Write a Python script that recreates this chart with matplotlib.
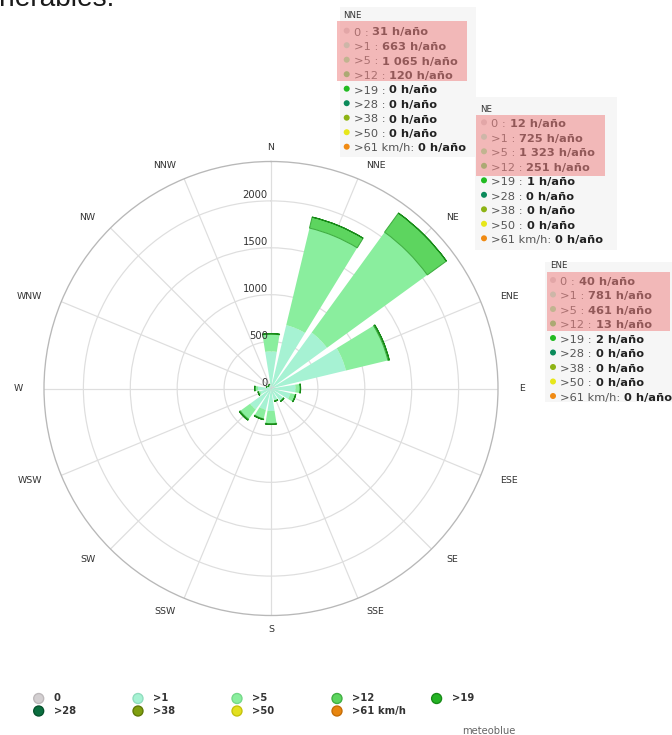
import numpy as np
import matplotlib
matplotlib.use("Agg")
import matplotlib.pyplot as plt
from matplotlib.patches import Rectangle, Circle
from matplotlib.text import Annotation
from matplotlib.transforms import Affine2D

# ─── Datos (h/año por dirección y clase de velocidad) ────────────────────────
direcciones = ["N", "NNE", "NE", "ENE", "E", "ESE", "SE", "SSE",
               "S", "SSW", "SW", "WSW", "W", "WNW", "NW", "NNW"]
clases = ["0", ">1", ">5", ">12", ">19", ">28", ">38", ">50", ">61 km/h"]

v0  = [15, 31, 12, 40, 10, 8, 6, 6, 10, 8, 10, 6, 8, 5, 4, 5]
v1  = [380, 663, 725, 781, 250, 205, 150, 120, 230, 225, 265, 110, 130, 40, 30, 35]
v5  = [185, 1065, 1323, 461, 50, 55, 15, 15, 135, 100, 130, 25, 35, 5, 3, 5]
v12 = [5, 120, 251, 13, 5, 3, 0, 0, 8, 8, 12, 1, 1, 0, 0, 0]
v19 = [0, 0, 1, 2, 0, 0, 0, 0, 0, 0, 0, 0, 0, 0, 0, 0]

r_ticks = [0, 500, 1000, 1500, 2000]

# tooltips (valores tal como aparecen)
tip_nne = ["31", "663", "1 065", "120", "0", "0", "0", "0", "0"]
tip_ne  = ["12", "725", "1 323", "251", "1", "0", "0", "0", "0"]
tip_ene = ["40", "781", "461", "13", "2", "0", "0", "0", "0"]

# ─── Colores ─────────────────────────────────────────────────────────────────
COL = ["#d3cfd1", "#a6f2d3", "#8aee9e", "#5dd55f", "#24b324",
       "#0b6e3f", "#7f9f0f", "#e3e01f", "#e8860f"]
EDGE = ["#bdb8ba", "#8fdcbd", "#74d888", "#3fae41", "#178a17",
        "#05512c", "#5f7806", "#c4c10c", "#c46c06"]
TIPCOL = ["#d3cfd1", "#a6f2d3", "#8aee9e", "#5dd55f", "#22bb22",
          "#0a8a5a", "#8db314", "#e7e71a", "#f08a12"]
GRID = "#dedede"
TXT = "#333333"

W, H = 672, 735
fig = plt.figure(figsize=(W / 96, H / 96), dpi=96, facecolor="white")
PX = Affine2D().scale(1 / W, -1 / H).translate(0, 1) + fig.transFigure

# texto cortado arriba
fig.text(-36, 5.5, "vulnerables.", transform=PX, fontsize=21,
         family="Liberation Sans", color="#1a1a1a", va="baseline", ha="left")

# ─── Rosa de vientos ─────────────────────────────────────────────────────────
CX, CY, R = 271, 388.5, 227
RMAX = 2420
ax = fig.add_axes([(CX - R) / W, (H - CY - R) / H, 2 * R / W, 2 * R / H],
                  projection="polar")
ax.set_theta_zero_location("N")
ax.set_theta_direction(-1)
ax.set_ylim(0, RMAX)

theta = np.deg2rad(np.arange(16) * 22.5)
ancho = np.deg2rad(22.5 * 0.8)

bottom = np.zeros(16)
for k, vals in enumerate([v0, v1, v5, v12, v19]):
    vals = np.array(vals, dtype=float)
    lw = 0.8 if k >= 3 else 0
    ax.bar(theta, vals, width=ancho, bottom=bottom, color=COL[k],
           edgecolor=EDGE[k] if k >= 3 else "none", linewidth=lw, zorder=3)
    bottom += vals

ax.set_xticks(theta)
ax.set_xticklabels([])
ax.set_yticks(r_ticks[1:])
ax.set_yticklabels([])
ax.grid(True, color=GRID, lw=0.9)
ax.set_axisbelow(True)
ax.spines["polar"].set_color("#b8b8b8")
ax.spines["polar"].set_linewidth(1.0)

# etiquetas de dirección fuera del círculo
for ang, lab in zip(theta, direcciones):
    s, c = np.sin(ang), np.cos(ang)
    if abs(s) < 1e-6:
        ha, x = "center", CX
    else:
        ha = "left" if s > 0 else "right"
        x = CX + 248 * s
    y = CY - 241.5 * c
    fig.text(x, y, lab, transform=PX, ha=ha, va="center",
             fontsize=7, color=TXT)

for v in r_ticks:
    ax.annotate(str(v), xy=(0, v), xytext=(-2.5, 4.5), textcoords="offset points",
                ha="right", va="center", fontsize=7.5, color=TXT, zorder=4)

# ─── Leyenda inferior ────────────────────────────────────────────────────────
leg_x = [38.7, 138, 237, 337, 436.6]
leg_y = [698.5, 711]
for i, lab in enumerate(clases):
    x = leg_x[i % 5]
    y = leg_y[i // 5]
    fig.add_artist(Circle((x, y), 5, transform=PX, facecolor=COL[i],
                          edgecolor=EDGE[i], lw=1))
    fig.text(x + 15, y, lab, transform=PX, fontsize=7.5, fontweight="bold",
             color=TXT, va="center", ha="left")
fig.text(462, 731, "meteoblue", transform=PX, fontsize=7.5, color="#666666",
         va="center", ha="left")


# ─── Tooltips ────────────────────────────────────────────────────────────────
def tooltip(box, title, title_xy, mx, y0, valores, pink, z):
    x0, y0b, x1, y1b = box
    fig.add_artist(Rectangle((x0, y0b), x1 - x0, y1b - y0b, transform=PX,
                             facecolor="#f6f6f6", edgecolor="none",
                             alpha=0.94, zorder=z))
    fig.text(title_xy[0], title_xy[1], title, transform=PX, fontsize=6.5,
             color=TXT, va="center", ha="left", zorder=z + 1)
    for i, (c, val) in enumerate(zip(clases, valores)):
        y = y0 + i * 14.5
        fig.add_artist(Circle((mx, y), 3, transform=PX, facecolor=TIPCOL[i],
                              edgecolor="none", zorder=z + 1))
        pre = c + (" :" if i < 8 else ":")
        t = fig.text(mx + 7, y + 4.8, pre, transform=PX, fontsize=8.5,
                     color="#555555", va="baseline", ha="left", zorder=z + 1)
        ann = Annotation(val + " h/año", xy=(1, 0), xycoords=t,
                         xytext=(3, 0), textcoords="offset points",
                         fontsize=8.5, fontweight="bold", color="#222222",
                         va="bottom", ha="left", zorder=z + 1)
        fig.add_artist(ann)
    px0, py0, px1, py1 = pink
    fig.add_artist(Rectangle((px0, py0), px1 - px0, py1 - py0, transform=PX,
                             facecolor="#ef8585", edgecolor="none",
                             alpha=0.55, zorder=z + 2))


tooltip((340, 7, 476, 157), "NNE", (343, 16), 346.7, 30.7, tip_nne,
        (337, 21, 467, 81), 10)
tooltip((475, 97, 617, 250), "NE", (480, 109), 484, 122.3, tip_ne,
        (476, 115, 605, 176), 20)
tooltip((545, 262, 672, 402), "ENE", (550, 266), 553, 280, tip_ene,
        (547, 272, 670, 331), 30)

plt.savefig("out.png", dpi=96, facecolor="white")
